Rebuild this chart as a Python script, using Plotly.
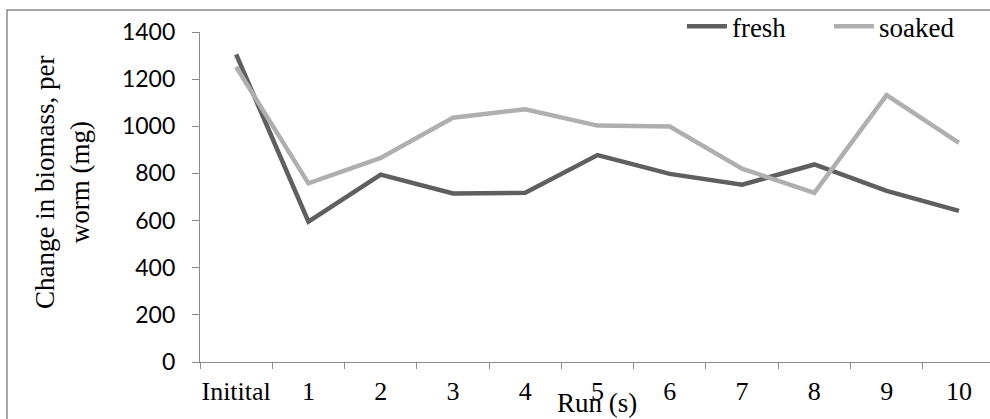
import plotly.graph_objects as go

categories = ["Initital", "1", "2", "3", "4", "5", "6", "7", "8", "9", "10"]
fresh = [1305, 595, 795, 715, 718, 878, 798, 752, 838, 726, 641]
soaked = [1252, 758, 866, 1036, 1072, 1003, 999, 820, 718, 1132, 930]
y_ticks = [0, 200, 400, 600, 800, 1000, 1200, 1400]

serif = "Liberation Serif"

fig = go.Figure()
fig.add_trace(go.Scatter(x=categories, y=fresh, mode="lines", name="fresh",
                         line=dict(color="#5f5f5f", width=4.5)))
fig.add_trace(go.Scatter(x=categories, y=soaked, mode="lines", name="soaked",
                         line=dict(color="#afafaf", width=4.5)))

fig.update_layout(
    width=990, height=419,
    margin=dict(l=200, r=0, t=32, b=57, autoexpand=False),
    plot_bgcolor="white", paper_bgcolor="white",
    showlegend=True,
    legend=dict(orientation="h", x=0.61, y=1.09, xanchor="left", yanchor="top",
                font=dict(family=serif, size=27, color="black"),
                bgcolor="rgba(0,0,0,0)", itemwidth=40, tracegroupgap=0,
                entrywidth=92, entrywidthmode="pixels"),
    xaxis=dict(type="category", range=[-0.5, 10.43], showline=True, linecolor="#8a8a8a",
               linewidth=1.2, ticks="outside", tickson="boundaries", ticklen=6,
               tickcolor="#8a8a8a", showgrid=False, zeroline=False,
               ticklabelstandoff=6, tickangle=0, automargin=False,
               tickfont=dict(family=serif, size=26, color="black")),
    yaxis=dict(range=[0, 1400], tickvals=y_ticks, showline=True, linecolor="#8a8a8a",
               linewidth=1.2, ticks="outside", ticklen=7, tickcolor="#8a8a8a",
               showgrid=False, zeroline=False, ticklabelstandoff=12, automargin=False,
               tickfont=dict(family="Lato", size=23, color="black")),
    shapes=[dict(type="rect", xref="paper", yref="paper",
                 x0=-0.2443, x1=1.2, y0=-0.5, y1=1.0667,
                 line=dict(color="#8a8a8a", width=1.5), layer="below")],
    annotations=[
        dict(text="Change in biomass, per<br>worm (mg)", xref="paper", yref="paper",
             x=-0.175, y=0.545, xanchor="center", yanchor="middle",
             textangle=-90, showarrow=False,
             font=dict(family=serif, size=27, color="black")),
        dict(text="Run (s)", xref="paper", yref="paper", x=0.5025, y=-0.125,
             xanchor="center", yanchor="middle", showarrow=False,
             font=dict(family=serif, size=27, color="black")),
    ],
)

fig.write_html("out.html")
